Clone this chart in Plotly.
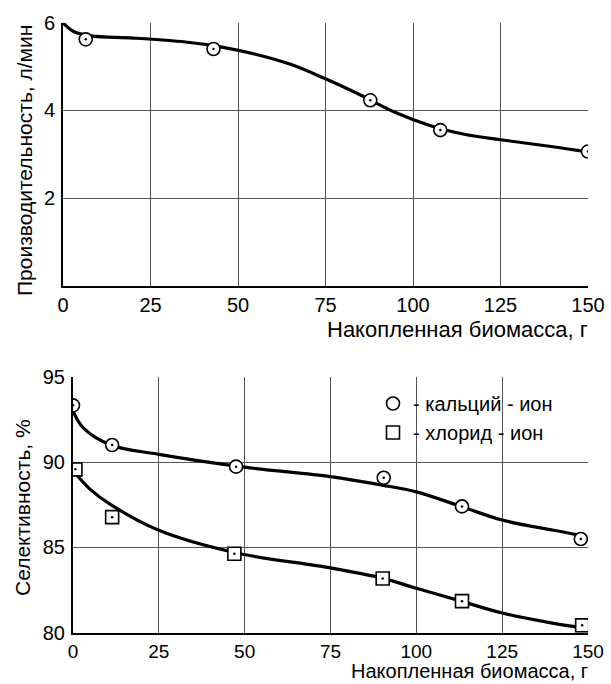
import plotly.graph_objects as go

# ---- data: top chart (productivity) ----
top_pts_x = [6.5, 43, 87.8, 107.8, 150]
top_pts_y = [5.62, 5.40, 4.23, 3.55, 3.06]
top_curve_x = [0, 3, 8, 20, 35, 45, 55, 65, 75, 85, 95, 105, 115, 125, 140, 150]
top_curve_y = [6.0, 5.8, 5.7, 5.65, 5.56, 5.45, 5.28, 5.05, 4.72, 4.35, 3.95, 3.65, 3.45, 3.33, 3.17, 3.05]

# ---- data: bottom chart (selectivity) ----
ca_pts_x = [0, 11.4, 47.5, 90.5, 113.3, 147.9]
ca_pts_y = [93.32, 91.0, 89.73, 89.08, 87.4, 85.49]
ca_curve_x = [0, 3, 11, 25, 50, 75, 90, 100, 113, 125, 140, 148]
ca_curve_y = [93.0, 92.0, 91.0, 90.45, 89.7, 89.15, 88.65, 88.25, 87.4, 86.6, 86.0, 85.7]

cl_pts_x = [0.7, 11.4, 47, 90.2, 113.3, 148.3]
cl_pts_y = [89.57, 86.77, 84.63, 83.18, 81.85, 80.43]
cl_curve_x = [0, 5, 11, 25, 47, 75, 90, 100, 113, 125, 140, 148]
cl_curve_y = [89.5, 88.4, 87.5, 86.0, 84.7, 83.8, 83.2, 82.6, 81.85, 81.15, 80.55, 80.3]

x_ticks = [0, 25, 50, 75, 100, 125, 150]
top_y_ticks = [2, 4, 6]
bot_y_ticks = [80, 85, 90, 95]

x_title = "Накопленная биомасса, г"
top_y_title = "Производительность, л/мин"
bot_y_title = "Селективность, %"
ca_name = "- кальций - ион"
cl_name = "- хлорид - ион"

FONT = "Liberation Sans, Arial, sans-serif"
W, H = 611, 684

fig = go.Figure()

def curve(x, y, xa, ya):
    fig.add_trace(go.Scatter(x=x, y=y, mode="lines", xaxis=xa, yaxis=ya,
                             line=dict(color="black", width=3.2, shape="spline", smoothing=1.0),
                             showlegend=False, hoverinfo="skip"))

def pts(x, y, xa, ya, symbol, name=None, legend=False):
    fig.add_trace(go.Scatter(x=x, y=y, mode="markers", xaxis=xa, yaxis=ya,
                             name=name, showlegend=legend,
                             marker=dict(symbol=symbol, size=13, color="white",
                                         line=dict(color="black", width=1.6))))
    fig.add_trace(go.Scatter(x=x, y=y, mode="markers", xaxis=xa, yaxis=ya,
                             showlegend=False, hoverinfo="skip",
                             marker=dict(symbol="circle", size=2.5, color="black")))

curve(top_curve_x, top_curve_y, "x", "y")
pts(top_pts_x, top_pts_y, "x", "y", "circle")

curve(ca_curve_x, ca_curve_y, "x2", "y2")
curve(cl_curve_x, cl_curve_y, "x2", "y2")
pts(ca_pts_x, ca_pts_y, "x2", "y2", "circle", ca_name, True)
pts(cl_pts_x, cl_pts_y, "x2", "y2", "square", cl_name, True)

def axis_style(size=20):
    return dict(showgrid=True, gridcolor="#555555", gridwidth=1,
                showline=True, linecolor="black", linewidth=2,
                ticks="", ticklen=0, zeroline=False, automargin=False,
                tickfont=dict(family=FONT, size=size, color="black"))

fig.update_layout(
    template="none",
    width=W, height=H, margin=dict(l=0, r=0, t=0, b=0, autoexpand=False),
    paper_bgcolor="white", plot_bgcolor="white",
    font=dict(family=FONT, color="black"),
    xaxis=dict(domain=[63/W, 588/W], range=[0, 150], tickvals=x_ticks, anchor="y", **axis_style()),
    yaxis=dict(domain=[1-285.7/H, 1-22.7/H], range=[0, 6], tickvals=top_y_ticks, anchor="x",
               ticklabelstandoff=2, **axis_style()),
    xaxis2=dict(domain=[73/W, 588/W], range=[0, 150], tickvals=x_ticks, anchor="y2", **axis_style(19)),
    yaxis2=dict(domain=[1-632.7/H, 1-376.7/H], range=[80, 95], tickvals=bot_y_ticks, anchor="x2",
                ticklabelstandoff=2, **axis_style()),
    legend=dict(x=373/W, y=1-384/H, xanchor="left", yanchor="top",
                bgcolor="rgba(0,0,0,0)", font=dict(family=FONT, size=20, color="black"),
                itemwidth=30, tracegroupgap=0),
    showlegend=True,
)

ann = dict(xref="paper", yref="paper", showarrow=False)
fig.add_annotation(text=x_title, x=590/W, y=1-330/H, xanchor="right", yanchor="middle",
                   font=dict(family=FONT, size=22, color="black"), **ann)
fig.add_annotation(text=x_title, x=590/W, y=0, xanchor="right", yanchor="bottom",
                   font=dict(family=FONT, size=20, color="black"), **ann)
fig.add_annotation(text=top_y_title, x=24/W, y=1-161/H, xanchor="center", yanchor="middle", textangle=-90,
                   font=dict(family=FONT, size=21, color="black"), **ann)
fig.add_annotation(text=bot_y_title, x=22/W, y=1-508/H, xanchor="center", yanchor="middle", textangle=-90,
                   font=dict(family=FONT, size=21, color="black"), **ann)

fig.write_html("out.html")
